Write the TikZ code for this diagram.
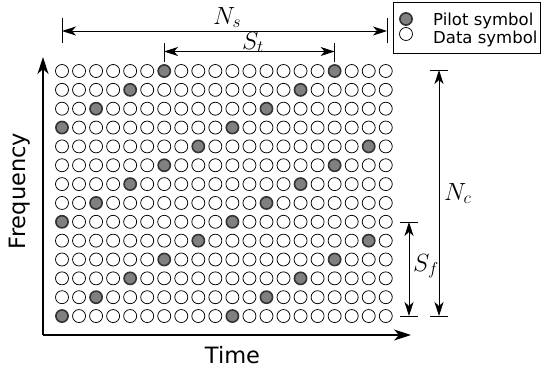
\documentclass[tikz,border=0pt]{standalone}
\usepackage{fontspec}
\setmainfont{DejaVu Sans}
\usetikzlibrary{arrows.meta}
\begin{document}
\begin{tikzpicture}[x=1pt,y=-1pt,
  datasym/.style={circle,draw=black,line width=0.75pt,fill=white,minimum size=13pt,inner sep=0pt},
  pilotsym/.style={circle,draw=black!80,line width=1.6pt,fill=black!50,minimum size=12.2pt,inner sep=0pt},
  dimline/.style={line width=0.8pt,{Stealth[length=14pt,width=9pt,inset=4pt]}-{Stealth[length=14pt,width=9pt,inset=4pt]}},
  tickline/.style={line width=0.8pt},
  axisline/.style={line width=1.2pt,-{Stealth[length=17pt,width=11pt,inset=5pt]}},
  axislabel/.style={font=\fontsize{22.5}{27}\selectfont,inner sep=0pt},
  mathlabel/.style={font=\fontsize{23}{27}\selectfont,inner sep=0pt},
  legtext/.style={font=\fontsize{16.5}{20}\selectfont,inner sep=0pt,anchor=base west},
]
\useasboundingbox (0,0) rectangle (541,370);

% grid of symbols
\foreach \r in {0,...,13}{
  \foreach \c in {0,...,19}{
    \pgfmathtruncatemacro\isp{mod(\c+2*\r+4,10)==0 ? 1 : 0}
    \ifnum\isp=1 \def\sty{pilotsym}\else\def\sty{datasym}\fi
    \node[\sty] (g-\r-\c) at (62+17.04*\c, 71+18.85*\r) {};
  }
}

% axes
\coordinate (o) at (43,335);
\coordinate (ytop) at (43,57);
\coordinate (xend) at (411,335);
\draw[axisline] (o) -- (ytop);
\draw[axisline] (o) -- (xend);
\node[axislabel,rotate=90,anchor=base] (flab) at (25,191) {Frequency};
\node[axislabel,anchor=base] (tlab) at (232.5,363) {Time};

% N_s
\coordinate (ns1a) at (62,18); \coordinate (ns1b) at (62,43);
\coordinate (ns2a) at (387,18); \coordinate (ns2b) at (387,43);
\coordinate (ns1) at (62,31); \coordinate (ns2) at (387,31);
\draw[tickline] (ns1a) -- (ns1b);
\draw[tickline] (ns2a) -- (ns2b);
\draw[dimline] (ns1) -- (ns2);
\node[mathlabel,anchor=base] (nslab) at (227,24) {$N_s$};

% S_t
\coordinate (st1a) at (164,43); \coordinate (st1b) at (164,62);
\coordinate (st2a) at (334.6,43); \coordinate (st2b) at (334.6,62);
\coordinate (st1) at (164,51.5); \coordinate (st2) at (334.6,51.5);
\draw[tickline] (st1a) -- (st1b);
\draw[tickline] (st2a) -- (st2b);
\draw[dimline] (st1) -- (st2);
\node[mathlabel,anchor=base] (stlab) at (253,49) {$S_t$};

% N_c
\coordinate (nc1a) at (430,70); \coordinate (nc1b) at (448,70);
\coordinate (nc2a) at (430,316); \coordinate (nc2b) at (448,316);
\coordinate (nc1) at (439,70); \coordinate (nc2) at (439,316);
\draw[tickline] (nc1a) -- (nc1b);
\draw[tickline] (nc2a) -- (nc2b);
\draw[dimline] (nc1) -- (nc2);
\node[mathlabel,anchor=base west] (nclab) at (444,200) {$N_c$};

% S_f
\coordinate (sf1a) at (400,222); \coordinate (sf1b) at (418,222);
\coordinate (sf2a) at (400,316); \coordinate (sf2b) at (418,316);
\coordinate (sf1) at (409,222); \coordinate (sf2) at (409,316);
\draw[tickline] (sf1a) -- (sf1b);
\draw[tickline] (sf2a) -- (sf2b);
\draw[dimline] (sf1) -- (sf2);
\node[mathlabel,anchor=base west] (sflab) at (413,271) {$S_f$};

% legend
\node[draw=black,line width=1pt,minimum width=147pt,minimum height=51pt,anchor=north west,inner sep=0pt] (leg) at (393,2) {};
\node[pilotsym] (legp) at (406,19) {};
\node[datasym] (legd) at (406,34) {};
\node[legtext] (legpt) at (433,25) {Pilot symbol};
\node[legtext] (legdt) at (433,43) {Data symbol};
\end{tikzpicture}
\end{document}
